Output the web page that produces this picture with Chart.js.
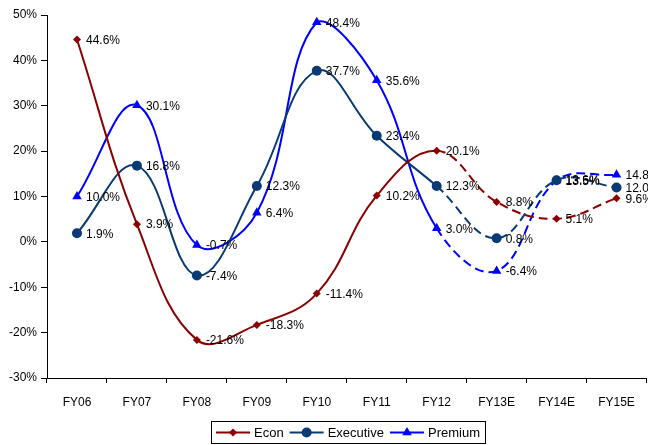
<!DOCTYPE html>
<html>
<head>
<meta charset="utf-8">
<script src="https://cdn.jsdelivr.net/npm/chart.js@4/dist/chart.umd.min.js"></script>
<style>
  html, body { margin: 0; padding: 0; background: #fff; overflow: hidden; }
  #wrap { width: 648px; height: 445px; position: relative; overflow: hidden; }
  #chart { display: block; }
</style>
</head>
<body>
<div id="wrap"><canvas id="chart" width="652" height="445"></canvas></div>
<script>
// Fiscal years (E = estimate)
const categories = ['FY06', 'FY07', 'FY08', 'FY09', 'FY10', 'FY11', 'FY12', 'FY13E', 'FY14E', 'FY15E'];

// Year-on-year growth, %
const econ      = [44.6, 3.9, -21.6, -18.3, -11.4, 10.2, 20.1, 8.8, 5.1, 9.6];
const executive = [1.9, 16.8, -7.4, 12.3, 37.7, 23.4, 12.3, 0.8, 13.6, 12.0];
const premium   = [10.0, 30.1, -0.7, 6.4, 48.4, 35.6, 3.0, -6.4, 13.5, 14.8];

const seriesNames = ['Econ', 'Executive', 'Premium'];
const yTicks = [-30, -20, -10, 0, 10, 20, 30, 40, 50];

// First index of the estimate segments (drawn dashed)
const estimateFrom = 6;

const FONT = 'Arial, "Liberation Sans", sans-serif';

function series(label, data, color, pointStyle, radius) {
  return {
    label, data,
    borderColor: color,
    backgroundColor: color,
    borderWidth: 2,
    pointStyle,
    pointRadius: radius,
    pointHoverRadius: radius,
    pointBorderWidth: 0,
    tension: 0.4,
    segment: {
      borderDash: ctx => ctx.p0DataIndex >= estimateFrom ? [9, 5] : undefined
    }
  };
}

// Value labels to the right of each point
const valueLabels = {
  id: 'valueLabels',
  afterDatasetsDraw(chart) {
    const c = chart.ctx;
    c.save();
    c.font = '12px ' + FONT;
    c.fillStyle = '#000';
    c.textAlign = 'left';
    c.textBaseline = 'middle';
    chart.data.datasets.forEach((ds, i) => {
      chart.getDatasetMeta(i).data.forEach((pt, j) => {
        c.fillText(ds.data[j].toFixed(1) + '%', pt.x + 9, pt.y + 1);
      });
    });
    c.restore();
  }
};

// Boxed legend with line + marker samples
const boxedLegend = {
  id: 'boxedLegend',
  afterDraw(chart) {
    const c = chart.ctx;
    c.save();
    c.font = '13px ' + FONT;
    const lineLen = 34, gapText = 4, gapItem = 6, pad = 5;
    const items = chart.data.datasets.map(ds => ({ ds, w: c.measureText(ds.label).width }));
    let total = pad * 2;
    items.forEach((it, i) => { total += lineLen + gapText + it.w + (i < items.length - 1 ? gapItem : 0); });
    const h = 22;
    const x0 = Math.round(348 - total / 2);
    const y0 = 421;
    c.strokeStyle = '#000';
    c.lineWidth = 1;
    c.strokeRect(x0 + 0.5, y0 + 0.5, Math.round(total), h);
    const cy = y0 + h / 2 + 0.5;
    let x = x0 + pad;
    items.forEach(it => {
      const ds = it.ds;
      c.strokeStyle = ds.borderColor;
      c.lineWidth = 2;
      c.beginPath();
      c.moveTo(x, cy);
      c.lineTo(x + lineLen, cy);
      c.stroke();
      c.fillStyle = ds.borderColor;
      Chart.helpers.drawPoint(c, { pointStyle: ds.pointStyle, radius: ds.pointRadius, borderWidth: 0, rotation: 0 }, x + lineLen / 2, cy);
      c.fillStyle = '#000';
      c.textAlign = 'left';
      c.textBaseline = 'middle';
      c.fillText(ds.label, x + lineLen + gapText, cy + 1);
      x += lineLen + gapText + it.w + gapItem;
    });
    c.restore();
  }
};

new Chart(document.getElementById('chart'), {
  type: 'line',
  data: {
    labels: categories,
    datasets: [
      series(seriesNames[0], econ, '#8B0000', 'rectRot', 4),
      series(seriesNames[1], executive, '#0A3A73', 'circle', 5),
      series(seriesNames[2], premium, '#0000FF', 'triangle', 5.5)
    ]
  },
  options: {
    responsive: false,
    animation: false,
    layout: { padding: { top: 15, right: 0, bottom: 37, left: 0 } },
    plugins: { legend: { display: false }, tooltip: { enabled: false } },
    scales: {
      x: {
        offset: true,
        grid: { offset: true, drawOnChartArea: false, drawTicks: true, tickLength: 5, color: '#000' },
        border: { display: true, color: '#000', width: 1 },
        ticks: { color: '#000', font: { family: FONT, size: 12 }, padding: 12, maxRotation: 0 },
        afterFit(scale) { scale.height = 30; }
      },
      y: {
        min: yTicks[0],
        max: yTicks[yTicks.length - 1],
        afterBuildTicks(scale) { scale.ticks = yTicks.map(v => ({ value: v })); },
        grid: { drawOnChartArea: false, drawTicks: true, tickLength: 6, color: '#000' },
        border: { display: true, color: '#000', width: 1 },
        ticks: { color: '#000', font: { family: FONT, size: 12 }, padding: 4, callback: v => v + '%' },
        afterFit(scale) { scale.width = 47; }
      }
    }
  },
  plugins: [valueLabels, boxedLegend]
});
</script>
</body>
</html>
